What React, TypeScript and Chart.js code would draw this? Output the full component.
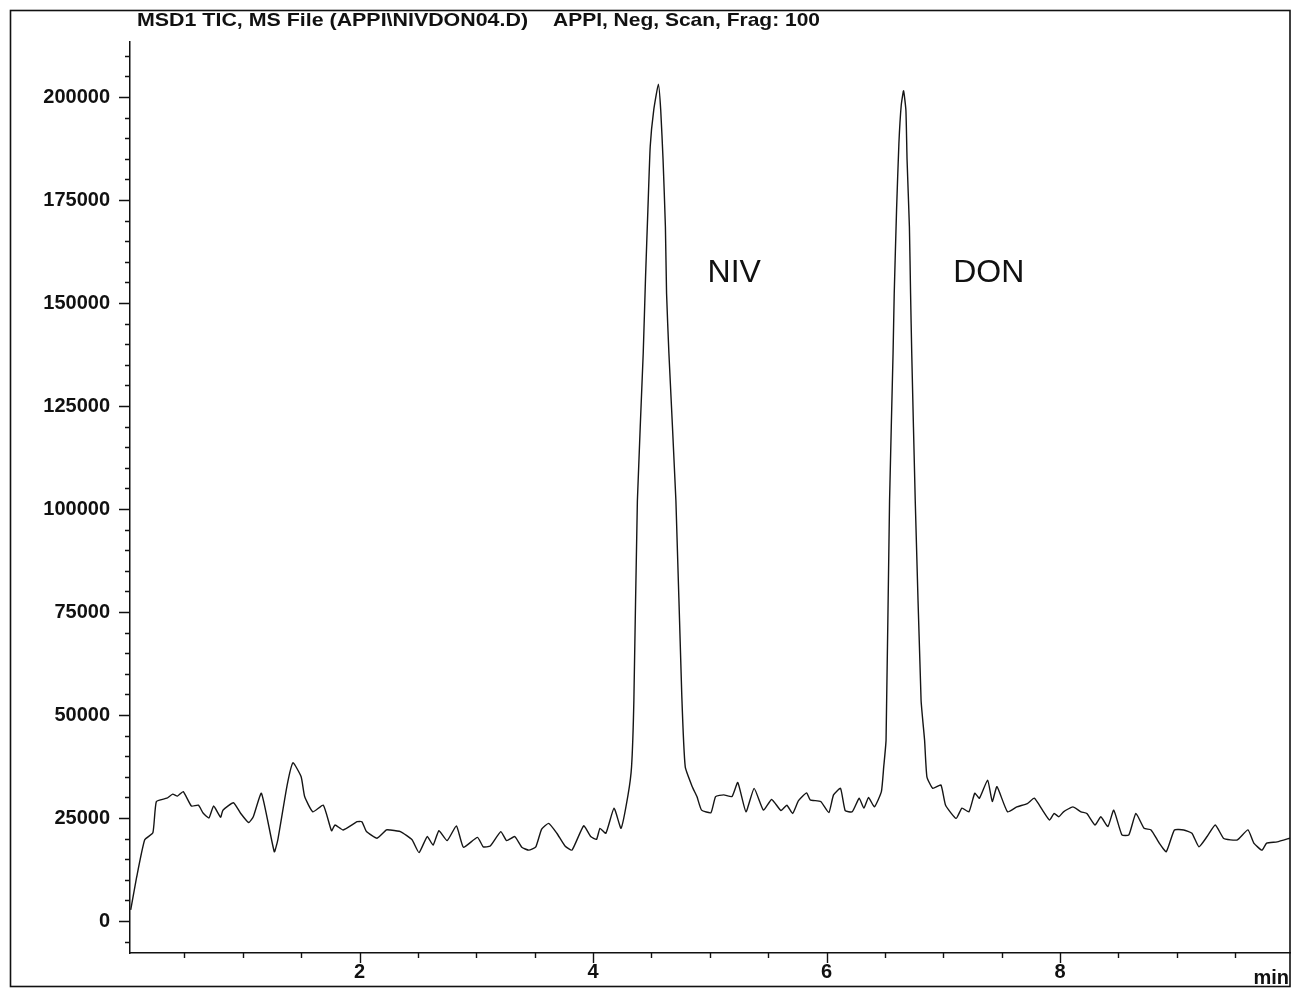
import { useEffect, useRef } from "react";
import { Chart, registerables } from "chart.js";

Chart.register(...registerables);

// Retention time (min)
const times = [
  0.04, 0.09, 0.16, 0.23, 0.26, 0.35, 0.40, 0.44, 0.49, 0.56, 0.62, 0.66, 0.71, 0.75, 0.81, 0.83, 0.92, 0.98,
  1.05, 1.09, 1.16, 1.27, 1.30, 1.38, 1.43, 1.50, 1.53, 1.60, 1.69, 1.76, 1.79, 1.86, 1.98, 2.02, 2.06, 2.15,
  2.23, 2.26, 2.35, 2.45, 2.51, 2.58, 2.63, 2.68, 2.75, 2.83, 2.89, 3.01, 3.06, 3.12, 3.21, 3.26, 3.33, 3.39,
  3.45, 3.51, 3.56, 3.62, 3.69, 3.76, 3.82, 3.92, 3.98, 4.03, 4.06, 4.11, 4.18, 4.24, 4.30, 4.33, 4.35, 4.38,
  4.43, 4.45, 4.47, 4.49, 4.52, 4.56, 4.58, 4.60, 4.62, 4.63, 4.65, 4.71, 4.76, 4.79, 4.85, 4.89, 4.93, 5.01,
  5.05, 5.12, 5.19, 5.24, 5.31, 5.38, 5.46, 5.53, 5.61, 5.66, 5.71, 5.76, 5.83, 5.86, 5.95, 6.02, 6.06, 6.12,
  6.16, 6.22, 6.28, 6.32, 6.36, 6.41, 6.47, 6.49, 6.51, 6.54, 6.57, 6.58, 6.60, 6.62, 6.64, 6.66, 6.68, 6.69,
  6.71, 6.72, 6.73, 6.76, 6.81, 6.84, 6.86, 6.91, 6.98, 7.02, 7.11, 7.16, 7.22, 7.27, 7.31, 7.38, 7.42, 7.46,
  7.55, 7.63, 7.72, 7.78, 7.85, 7.91, 7.95, 7.99, 8.03, 8.11, 8.18, 8.23, 8.30, 8.35, 8.41, 8.46, 8.53, 8.59,
  8.65, 8.72, 8.78, 8.85, 8.91, 8.98, 9.06, 9.13, 9.19, 9.26, 9.33, 9.40, 9.46, 9.52, 9.61, 9.66, 9.73, 9.77,
  9.86, 9.97,
];

// TIC abundance
const intensities = [
  2700, 10500, 19700, 21400, 29000, 29800, 30800, 30300, 31400, 27900, 28100, 26200, 25000, 27900, 25200, 26900, 28700, 26200,
  23900, 25300, 31000, 16800, 19700, 33000, 38400, 35000, 30200, 26500, 28100, 21900, 23300, 22100, 24100, 24100, 21700, 20100,
  22100, 22100, 21700, 19700, 16600, 20500, 18400, 21900, 19500, 23100, 17900, 20300, 18000, 18200, 21700, 19500, 20500, 17900,
  17200, 18000, 22300, 23700, 21300, 18200, 17200, 23100, 20500, 19800, 22500, 21300, 27400, 22500, 30600, 37400, 53600, 102000,
  137800, 156400, 172600, 188000, 196800, 203100, 196800, 184700, 168500, 152300, 137800, 102000, 55000, 37400, 32600, 30200, 26900, 26300,
  30200, 30600, 30200, 33600, 26500, 32200, 26900, 29500, 26800, 28100, 26100, 29200, 31100, 29400, 29000, 26300, 30600, 32200,
  26800, 26500, 29800, 27400, 30000, 27700, 31400, 37400, 43900, 102000, 137800, 152300, 172600, 188700, 198000, 201500, 196800, 184700,
  168500, 152300, 137800, 102000, 53600, 43900, 35000, 32200, 33000, 28100, 24900, 27400, 26500, 31000, 29800, 34200, 29000, 32600,
  26500, 27700, 28500, 29800, 26900, 24500, 26100, 25300, 26500, 27700, 26500, 26100, 23300, 25300, 22900, 26900, 20900, 20900,
  26100, 22500, 22100, 18900, 16800, 22100, 22100, 21300, 18000, 20500, 23300, 20100, 19700, 19700, 22100, 18900, 17200, 18900,
  19200, 20100,
];

const yTickValues = [0, 25000, 50000, 75000, 100000, 125000, 150000, 175000, 200000];
const xTickValues = [2, 4, 6, 8];

const peakNames = ["NIV", "DON"];
const peakLabelTimes = [5.21, 7.39];
const peakLabelValues = [155000, 155000];

const titleLeft = "MSD1 TIC, MS File (APPI\\NIVDON04.D)";
const titleRight = "APPI, Neg, Scan, Frag: 100";
const xUnit = "min";

const FONT = '"Liberation Sans", Arial, sans-serif';

const decorPlugin = {
  id: "decor",
  afterDraw(chart: any) {
    const { ctx, chartArea, scales } = chart;
    const xs = scales.x;
    const ys = scales.y;
    ctx.save();
    ctx.strokeStyle = "#111";
    ctx.fillStyle = "#111";

    // outer frame
    ctx.lineWidth = 1.6;
    ctx.strokeRect(10.5, 10.5, chartArea.right - 10.5, 976);

    // y ticks (major + minor)
    ctx.lineWidth = 1.4;
    ctx.beginPath();
    for (let v = -5000; v <= 210000; v += 5000) {
      const py = Math.round(ys.getPixelForValue(v)) + 0.5;
      const len = v % 25000 === 0 ? 11 : 5;
      ctx.moveTo(chartArea.left - len, py);
      ctx.lineTo(chartArea.left, py);
    }
    // x ticks (major + minor)
    for (let t = 0.5; t < 10; t += 0.5) {
      const px = Math.round(xs.getPixelForValue(t)) + 0.5;
      const len = Math.abs(t % 2) < 1e-9 ? 10 : 5;
      ctx.moveTo(px, chartArea.bottom);
      ctx.lineTo(px, chartArea.bottom + len);
    }
    ctx.stroke();

    // title
    ctx.font = `bold 19px ${FONT}`;
    ctx.textBaseline = "alphabetic";
    ctx.textAlign = "left";
    const drawFit = (s: string, x0: number, x1: number, y: number) => {
      const w = ctx.measureText(s).width;
      ctx.save();
      ctx.translate(x0, y);
      ctx.scale((x1 - x0) / w, 1);
      ctx.fillText(s, 0, 0);
      ctx.restore();
    };
    drawFit(titleLeft, 137, 528, 26);
    drawFit(titleRight, 553, 820, 26);

    // peak names
    ctx.font = `32px ${FONT}`;
    ctx.textAlign = "center";
    peakNames.forEach((n, i) => {
      ctx.fillText(n, xs.getPixelForValue(peakLabelTimes[i]), ys.getPixelForValue(peakLabelValues[i]));
    });

    // unit
    ctx.font = `bold 20px ${FONT}`;
    ctx.textAlign = "right";
    ctx.fillText(xUnit, chartArea.right - 1, 984);
    ctx.restore();
  },
};

export default function App() {
  const ref = useRef<HTMLCanvasElement | null>(null);
  useEffect(() => {
    if (!ref.current) return;
    const points = times.map((t, i) => ({ x: t, y: intensities[i] }));
    const chart = new Chart(ref.current, {
      type: "line",
      data: {
        datasets: [
          {
            data: points,
            borderColor: "#151515",
            borderWidth: 1.4,
            pointRadius: 0,
            tension: 0.15,
            fill: false,
          },
        ],
      },
      options: {
        animation: false,
        responsive: false,
        devicePixelRatio: 1,
        layout: { padding: { left: 0, top: 42, right: 11, bottom: 0 } },
        plugins: { legend: { display: false }, tooltip: { enabled: false }, title: { display: false } },
        scales: {
          x: {
            type: "linear",
            min: 0.034,
            max: 9.97,
            grid: { display: false, drawTicks: false },
            border: { display: true, color: "#111", width: 1.5 },
            afterBuildTicks: (scale: any) => {
              scale.ticks = xTickValues.map((v) => ({ value: v }));
            },
            afterFit: (scale: any) => {
              scale.height = 36;
            },
            ticks: {
              autoSkip: false,
              maxRotation: 0,
              padding: 7,
              color: "#111",
              font: { family: FONT, size: 20, weight: "bold" },
              callback: (v: any) => String(v),
            },
          },
          y: {
            type: "linear",
            min: -7770,
            max: 213350,
            grid: { display: false, drawTicks: false },
            border: { display: true, color: "#111", width: 1.5 },
            afterBuildTicks: (scale: any) => {
              scale.ticks = yTickValues.map((v) => ({ value: v }));
            },
            afterFit: (scale: any) => {
              scale.width = 130;
            },
            ticks: {
              autoSkip: false,
              padding: 20,
              color: "#111",
              font: { family: FONT, size: 20, weight: "bold" },
              callback: (v: any) => String(v),
            },
          },
        },
      },
      plugins: [decorPlugin],
    });
    return () => chart.destroy();
  }, []);

  return (
    <div style={{ position: "fixed", left: 0, top: 0, width: 1301, height: 989, background: "#fff" }}>
      <canvas ref={ref} width={1301} height={989} style={{ display: "block" }} />
    </div>
  );
}
